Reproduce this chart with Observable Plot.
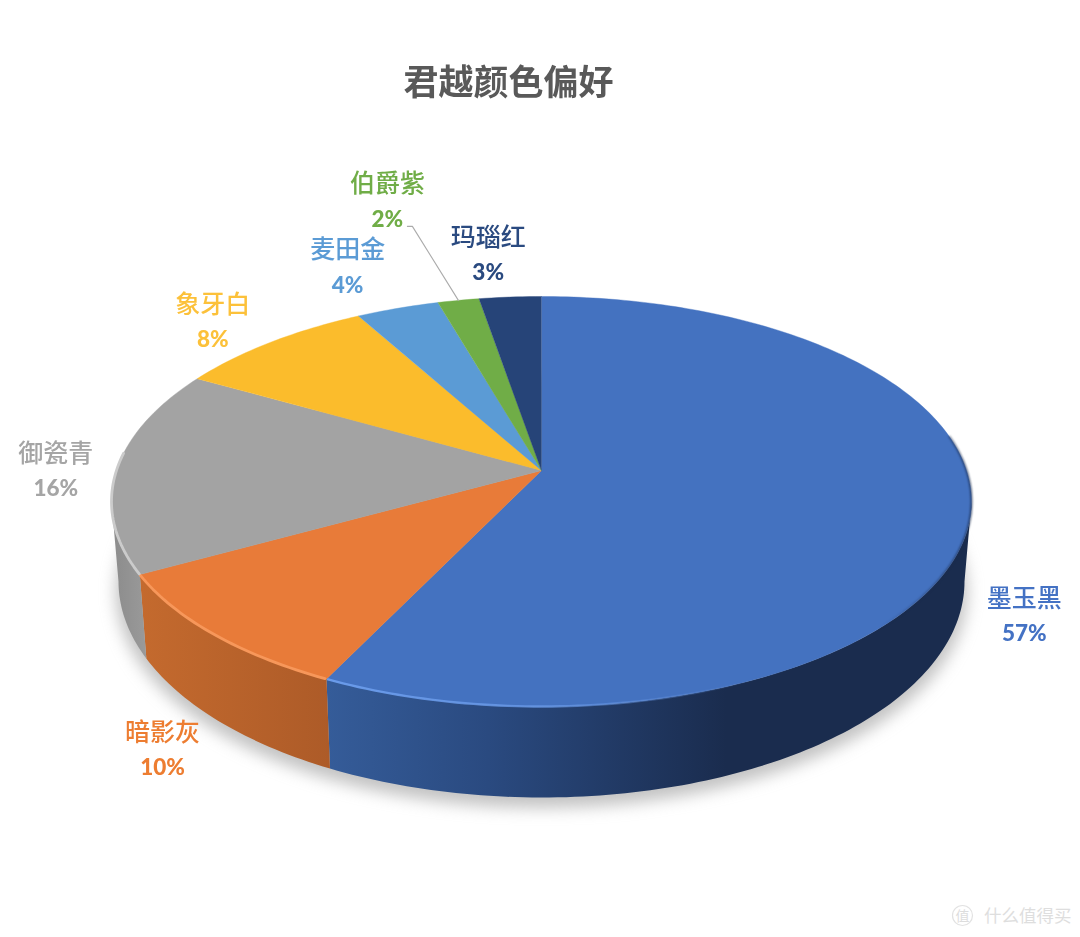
<!DOCTYPE html>
<html lang="zh">
<head>
<meta charset="utf-8">
<title>君越颜色偏好</title>
<script src="https://cdn.jsdelivr.net/npm/d3@7"></script>
<script src="https://cdn.jsdelivr.net/npm/@observablehq/plot@0.6"></script>
<style>
  html, body { margin: 0; padding: 0; background: #fff; overflow: hidden; }
</style>
</head>
<body>
<div id="chart"></div>
<script>
// ---- data, clockwise from twelve o'clock ----
const categories = ["墨玉黑", "暗影灰", "御瓷青", "象牙白", "麦田金", "伯爵紫", "玛瑙红"];
const shares     = [57.2, 9.8, 16.2, 8.7, 3.6, 1.8, 2.7];
const percentLabels = ["57%", "10%", "16%", "8%", "4%", "2%", "3%"];
const topColors  = ["#4472C0", "#E87B39", "#A3A3A3", "#FBBC2C", "#5B9BD5", "#70AD47", "#264478"];
const labelColors = ["#4472C4", "#ED7D31", "#A5A5A5", "#FCC13A", "#5B9BD5", "#70AD47", "#2A4A80"];
const chartTitle = "君越颜色偏好";
const watermark = "什么值得买";
const watermarkBadge = "值";

// ---- 3D view of the pie ----
const tilt = 0.151;                       // perspective strength
const wallScaleX = 423 / 430;             // lower plane, relative to the top one
const wallScaleY = 216 / 205;
const wallDrop = 80 / 205;
const shadowDrop = 0.05;
const deg = Math.PI / 180;

function project(thetaDeg, plane) {
  const t = thetaDeg * deg, depth = -Math.cos(t), d = 1 - tilt * depth;
  const px = Math.sin(t) * Math.sqrt(1 - tilt * tilt) / d;
  const py = (depth - tilt) / d;
  if (plane === "bottom") return {x: px * wallScaleX, y: wallDrop + py * wallScaleY};
  if (plane === "shadow") return {x: px * wallScaleX * 1.006, y: wallDrop + shadowDrop + py * wallScaleY};
  return {x: px, y: py};
}
const arcPoints = (a, b, plane) => {
  const n = Math.max(2, Math.ceil(Math.abs(b - a)));
  return d3.range(n + 1).map(i => project(a + (b - a) * i / n, plane));
};

// slice boundaries in degrees, from the shares
const total = d3.sum(shares);
const cumulative = d3.cumsum(shares);
const slices = categories.map((cat, i) => ({
  cat, i,
  start: (i ? cumulative[i - 1] : 0) / total * 360,
  end: cumulative[i] / total * 360,
  get mid() { return (this.start + this.end) / 2; }
}));

// top face polygons
const topFace = slices.flatMap(s =>
  [{x: 0, y: -tilt}, ...arcPoints(s.start, s.end)].map(p => ({...p, cat: s.cat}))
);

// side walls: only the part turned to the viewer
const sideFrom = Math.acos(-tilt) / deg, sideTo = 360 - sideFrom;
const wallPolygon = s => {
  const a = Math.max(s.start, sideFrom), b = Math.min(s.end, sideTo);
  return b > a ? [...arcPoints(a, b), ...arcPoints(b, a, "bottom")] : [];
};
const shadowOutline = arcPoints(0, 360, "shadow");

const wallFills = ["url(#wallBlue)", "url(#wallOrange)", "url(#wallGray)"];
const rimSpecs = [
  {from: 155, to: slices[0].end - 0.2, stroke: "url(#rimBlue)", w: 2.4},
  {from: slices[1].start + 0.2, to: slices[1].end - 0.2, stroke: "#F7975A", w: 2.8},
  {from: slices[2].start + 0.2, to: 275, stroke: "#CBCBCB", w: 2.8}
];

// label placement: pixel nudges away from each slice's rim mid point
const labelNudges = [[54, 82], [-50, 99], [-61, -15], [-58, -37], [-50, -58], [-71, -116], [-22, -59]];
const percentGap = 35;

const gradientDefs = () => {
  const defs = d3.create("svg:defs");
  defs.html(`
    <linearGradient id="wallBlue" x1="0" x2="1" y1="0" y2="0">
      <stop offset="0" stop-color="#355C99"/><stop offset="0.25" stop-color="#2A4A80"/>
      <stop offset="0.62" stop-color="#1A2C4E"/><stop offset="1" stop-color="#1A2C4E"/>
    </linearGradient>
    <linearGradient id="wallOrange" x1="0" x2="1" y1="0" y2="0">
      <stop offset="0" stop-color="#C46A2E"/><stop offset="1" stop-color="#AD5B28"/>
    </linearGradient>
    <linearGradient id="wallGray" x1="0" x2="1" y1="0" y2="0">
      <stop offset="0" stop-color="#8B8B8B"/><stop offset="1" stop-color="#9A9A9A"/>
    </linearGradient>
    <linearGradient id="rimBlue" x1="0" x2="1" y1="0" y2="0">
      <stop offset="0" stop-color="#6A9BEA"/><stop offset="0.5" stop-color="#6A9BEA" stop-opacity="0.75"/>
      <stop offset="1" stop-color="#6A9BEA" stop-opacity="0"/>
    </linearGradient>
    <linearGradient id="edgeDark" x1="0" x2="1" y1="0" y2="0">
      <stop offset="0" stop-color="#1A2C4E" stop-opacity="0"/><stop offset="0.5" stop-color="#1A2C4E" stop-opacity="0.55"/>
      <stop offset="1" stop-color="#1A2C4E"/>
    </linearGradient>`);
  return defs.node();
};

const cjk = "'Noto Sans CJK SC', sans-serif";
const soft = "blur(0.35px)";

const labelMarks = slices.flatMap(s => {
  const rim = [project(s.mid)];
  const [dx, dy] = labelNudges[s.i];
  return [
    Plot.text(rim, {x: "x", y: "y", text: () => s.cat, dx, dy, fill: labelColors[s.i],
      fontFamily: cjk, fontSize: 25, fontWeight: 500, textAnchor: "middle", lineAnchor: "middle", imageFilter: soft}),
    Plot.text(rim, {x: "x", y: "y", text: () => percentLabels[s.i], dx, dy: dy + percentGap, fill: labelColors[s.i],
      fontFamily: "Lato, sans-serif", fontSize: 22.5, fontWeight: 900, textAnchor: "middle", lineAnchor: "middle", imageFilter: soft})
  ];
});

// leader line of the 2% label, from its text to the rim of the slice
const leaderRim = project(slices[5].mid);
const unit = {x: 2 / 860, y: 2 / 410};
const leader = [
  {x: leaderRim.x - 51 * unit.x, y: leaderRim.y - 74 * unit.y},
  {x: leaderRim.x - 46 * unit.x, y: leaderRim.y - 74 * unit.y},
  {x: leaderRim.x, y: leaderRim.y}
];

const chart = Plot.plot({
  width: 1080,
  height: 937,
  margin: 0,
  style: {background: "#fff"},
  x: {domain: [-1, 1], range: [111, 971], axis: null},
  y: {domain: [-1, 1], range: [296, 706], axis: null},
  color: {domain: categories, range: topColors},
  marks: [
    gradientDefs,
    // soft ground shadow
    Plot.line(shadowOutline, {x: "x", y: "y", fill: "#8f8f8f", stroke: "none", fillOpacity: 0.55, imageFilter: "blur(8px)"}),
    // side walls
    ...slices.slice(0, 3).map(s =>
      Plot.line(wallPolygon(s), {x: "x", y: "y", fill: wallFills[s.i], stroke: "none"})
    ),
    // top face
    Plot.line(topFace, {x: "x", y: "y", z: "cat", fill: "cat", stroke: "cat", strokeWidth: 0.4}),
    // soft dark edge on the shaded side
    Plot.line(arcPoints(80, 135), {x: "x", y: "y", stroke: "url(#edgeDark)", strokeWidth: 1.5, imageFilter: "blur(0.8px)"}),
    // bevel highlights along the front rim
    ...rimSpecs.map(r =>
      Plot.line(arcPoints(r.from, r.to), {x: "x", y: "y", stroke: r.stroke, strokeWidth: r.w, imageFilter: "blur(0.7px)"})
    ),
    Plot.line(leader, {x: "x", y: "y", stroke: "#ABABAB", strokeWidth: 1.1}),
    ...labelMarks,
    Plot.text([chartTitle], {frameAnchor: "top", dx: -32, dy: 70, text: d => d, fill: "#595959",
      fontFamily: cjk, fontSize: 35, fontWeight: 700, lineAnchor: "top", imageFilter: soft}),
    // site watermark
    Plot.dot([0], {frameAnchor: "bottom-right", dx: -118, dy: -22, r: 10, stroke: "#E2E2E2", strokeWidth: 1.2, fill: "none"}),
    Plot.text([watermarkBadge], {frameAnchor: "bottom-right", dx: -111, dy: -17, text: d => d, fill: "#DDDDDD",
      fontFamily: cjk, fontSize: 14, textAnchor: "end"}),
    Plot.text([watermark], {frameAnchor: "bottom-right", dx: -9, dy: -16, text: d => d, fill: "#DEDEDE",
      fontFamily: cjk, fontSize: 17.5, textAnchor: "end"})
  ]
});
document.getElementById("chart").append(chart);
</script>
</body>
</html>
